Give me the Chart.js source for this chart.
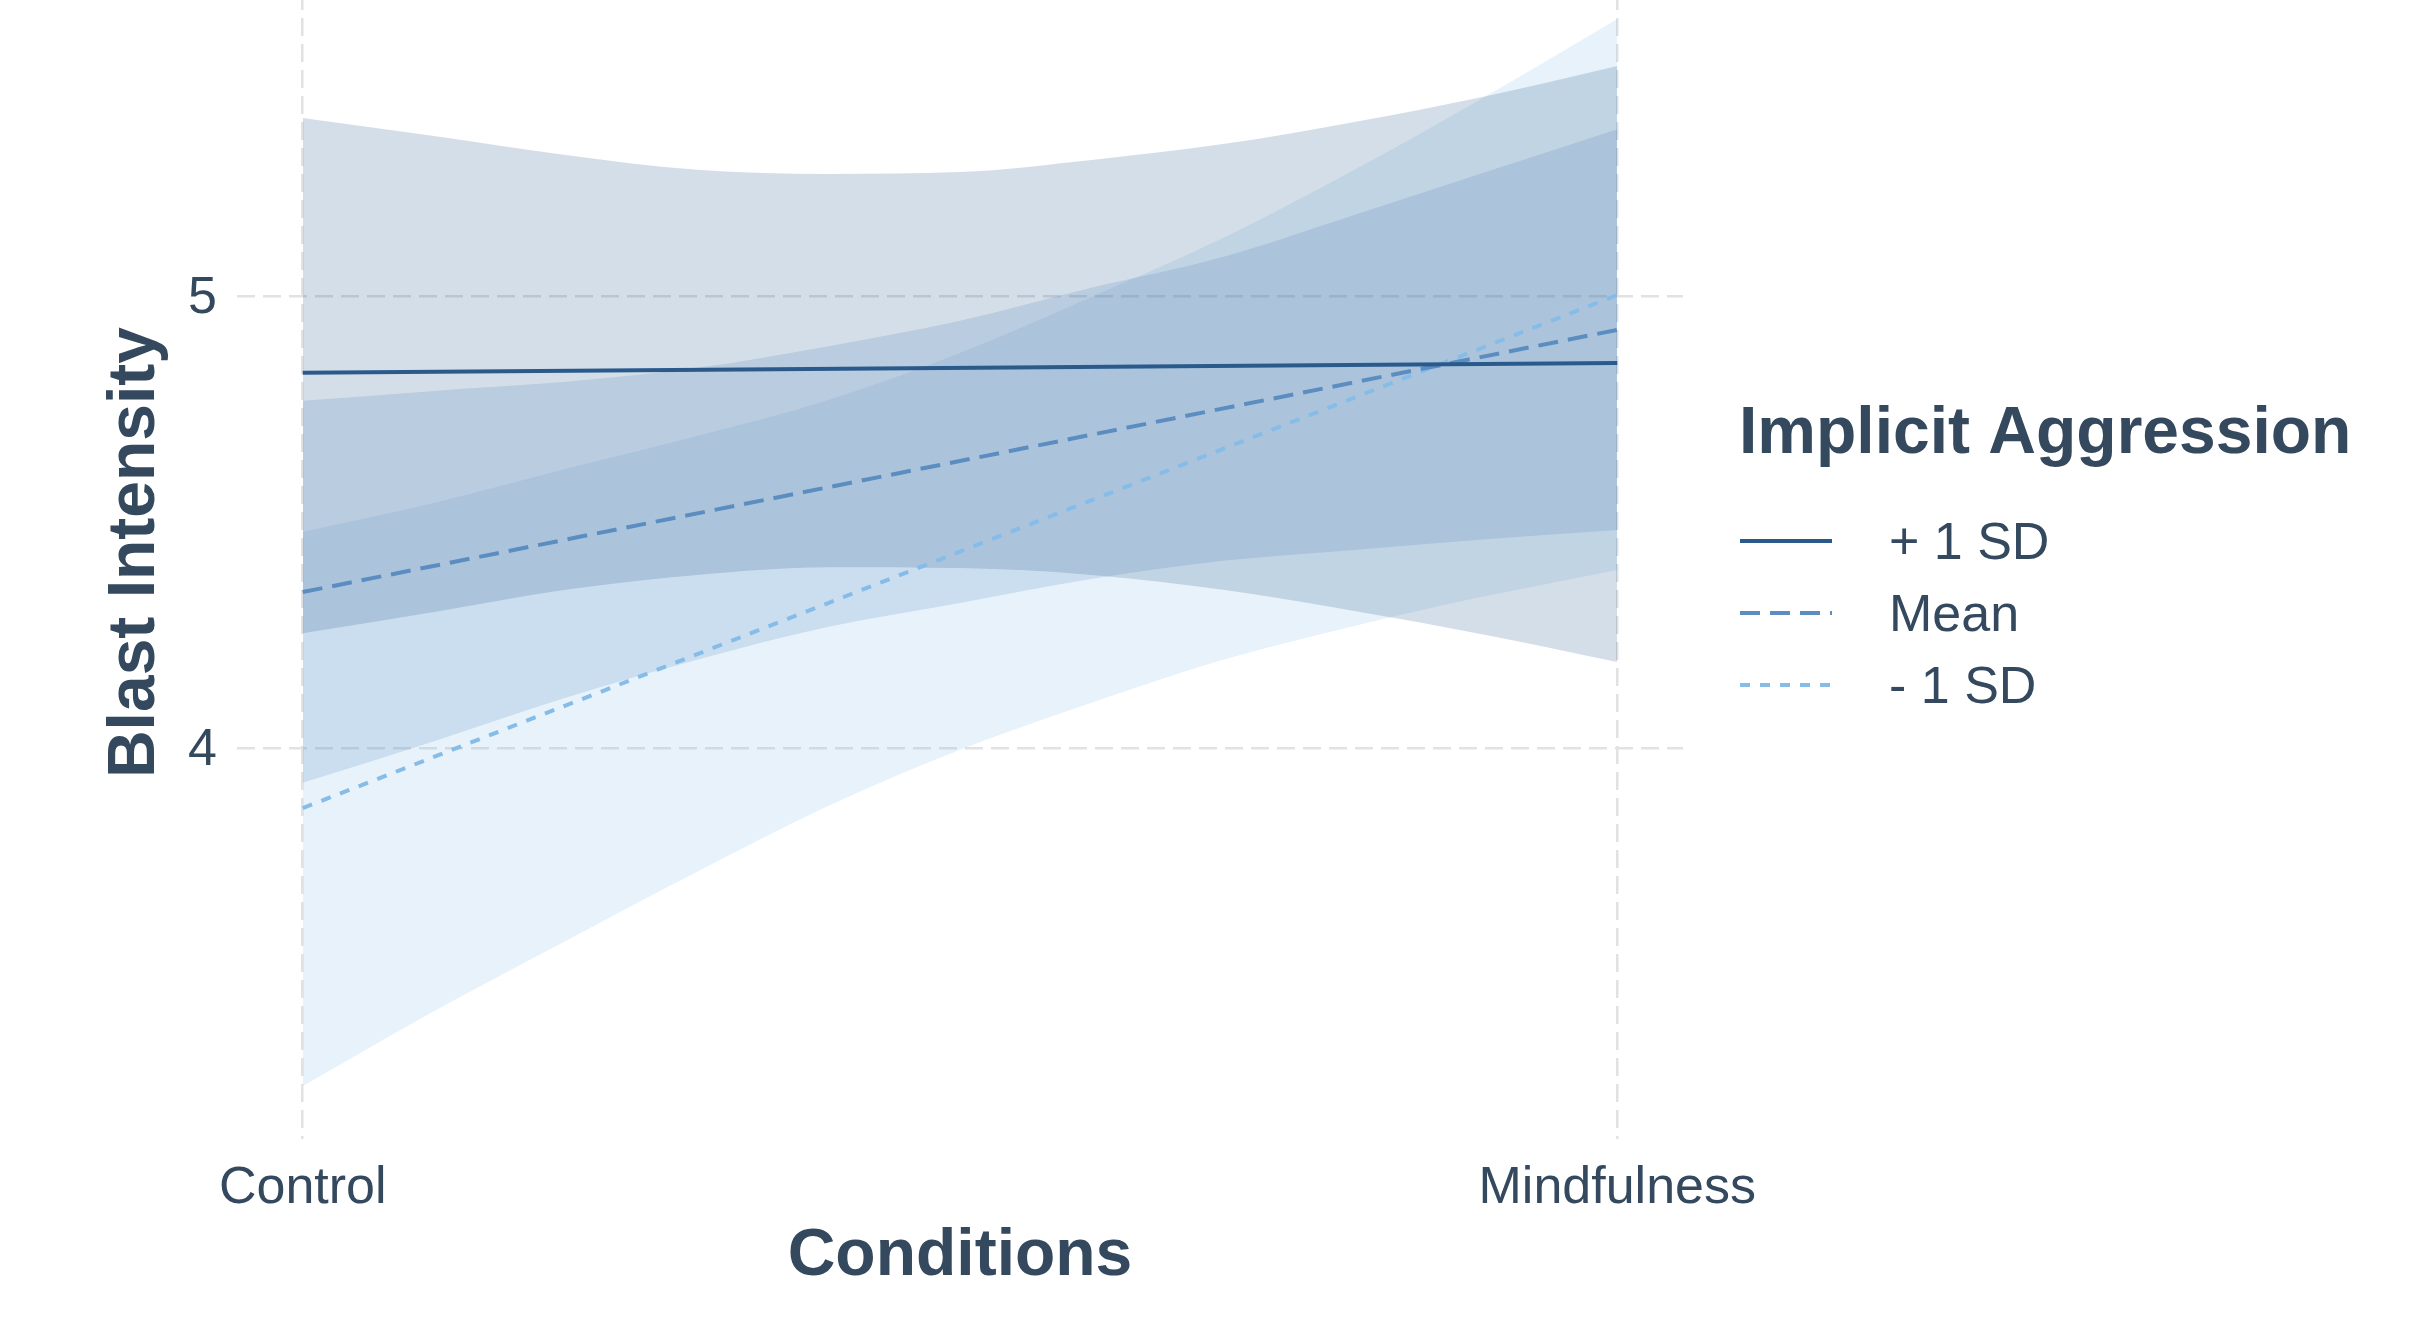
<!DOCTYPE html>
<html>
<head>
<meta charset="utf-8">
<title>Blast Intensity by Condition</title>
<script src="https://cdn.jsdelivr.net/npm/chart.js@4.4.1/dist/chart.umd.min.js"></script>
<style>
    html, body { margin: 0; padding: 0; background: #ffffff; overflow: hidden; }
    #wrap { position: relative; width: 2432px; height: 1321px; overflow: hidden; }
    /* o painel do original continua acima do recorte */
    #chart { position: absolute; left: 0; top: -34px; }
</style>
</head>
<body>
<div id="wrap"><canvas id="chart" width="2432" height="1355"></canvas></div>
<script>
// Categorias do eixo x (codificadas 0 / 1)
const conditions = ['Control', 'Mindfulness'];
const conditionX = [0, 1];
const yTicks = [4, 5];
const legendTitle = 'Implicit Aggression';
const seriesLabels = ['+ 1 SD', 'Mean', '- 1 SD'];

// Rectas previstas (Control, Mindfulness)
const plusSD = [4.83, 4.852];
const meanSD = [4.345, 4.925];
const minusSD = [3.867, 5.002];

// Intervalos de confiança lidos ao longo do eixo
const bandX = [0, 0.1, 0.2, 0.3, 0.4, 0.5, 0.6, 0.7, 0.8, 0.9, 1];
const plusUpper = [5.394, 5.354, 5.312, 5.279, 5.270, 5.274, 5.301, 5.336, 5.385, 5.442, 5.509];
const plusLower = [4.254, 4.301, 4.350, 4.383, 4.400, 4.398, 4.383, 4.350, 4.303, 4.250, 4.190];
const meanUpper = [4.768, 4.790, 4.810, 4.841, 4.889, 4.945, 5.018, 5.086, 5.179, 5.274, 5.369];
const meanLower = [3.923, 4.015, 4.111, 4.195, 4.268, 4.321, 4.374, 4.414, 4.438, 4.462, 4.482];
const minusUpper = [4.478, 4.542, 4.617, 4.690, 4.770, 4.874, 4.998, 5.128, 5.279, 5.442, 5.613];
const minusLower = [3.252, 3.418, 3.573, 3.726, 3.872, 3.996, 4.100, 4.195, 4.270, 4.336, 4.394];

const textColor = '#34495E';
const fontFamily = '"Liberation Sans", Arial, Helvetica, sans-serif';
const colors = ['#2A5A8C', '#5B8DC1', '#86BCE8'];
const dashes = [[], [20, 10], [10, 10]];

function hexToRgba(hex, a) {
    const n = parseInt(hex.slice(1), 16);
    return `rgba(${(n >> 16) & 255}, ${(n >> 8) & 255}, ${n & 255}, ${a})`;
}

function toPoints(xs, ys) {
    return xs.map((x, i) => ({ x: x, y: ys[i] }));
}

// --- BANDAS (desenhadas por baixo das linhas) ---
const bands = [[plusUpper, plusLower], [meanUpper, meanLower], [minusUpper, minusLower]];
const datasets = [];
bands.forEach(function(b, i) {
    datasets.push({
        label: seriesLabels[i] + ' upper',
        data: toPoints(bandX, b[0]),
        fill: '+1',
        backgroundColor: hexToRgba(colors[i], 0.2),
        borderColor: 'rgba(0,0,0,0)',
        borderWidth: 0,
        pointRadius: 0,
        cubicInterpolationMode: 'monotone',
        order: 1
    });
    datasets.push({
        label: seriesLabels[i] + ' lower',
        data: toPoints(bandX, b[1]),
        fill: false,
        borderColor: 'rgba(0,0,0,0)',
        borderWidth: 0,
        pointRadius: 0,
        cubicInterpolationMode: 'monotone',
        order: 1
    });
});

// --- LINHAS ---
[plusSD, meanSD, minusSD].forEach(function(vals, i) {
    datasets.push({
        label: seriesLabels[i],
        data: toPoints(conditionX, vals),
        fill: false,
        borderColor: colors[i],
        borderWidth: 4,
        borderDash: dashes[i],
        borderCapStyle: 'butt',
        pointRadius: 0,
        order: 0
    });
});

// Legenda desenhada à direita, ao estilo ggplot
const ggLegend = {
    id: 'ggLegend',
    afterDraw(chart) {
        const ctx = chart.ctx;
        ctx.save();
        ctx.fillStyle = textColor;
        ctx.textBaseline = 'middle';
        ctx.textAlign = 'left';
        ctx.font = `bold 66px ${fontFamily}`;
        ctx.fillText(legendTitle, 1739, 469);
        seriesLabels.forEach(function(label, i) {
            const y = 575 + i * 72;
            ctx.beginPath();
            ctx.lineWidth = 4;
            ctx.lineCap = 'butt';
            ctx.strokeStyle = colors[i];
            ctx.setLineDash(dashes[i]);
            ctx.moveTo(1740, y);
            ctx.lineTo(1832, y);
            ctx.stroke();
            ctx.setLineDash([]);
            ctx.font = `52px ${fontFamily}`;
            ctx.fillText(label, 1889, y + 4);
        });
        ctx.restore();
    }
};

Chart.defaults.font.family = fontFamily;
Chart.defaults.color = textColor;

const ctx = document.getElementById('chart').getContext('2d');
new Chart(ctx, {
    type: 'line',
    data: { datasets: datasets },
    options: {
        responsive: false,
        animation: false,
        devicePixelRatio: 1,
        layout: { padding: { left: 0, right: 749, top: 0, bottom: 0 } },
        plugins: {
            legend: { display: false },
            tooltip: { enabled: false }
        },
        scales: {
            x: {
                type: 'linear',
                min: -0.05,
                max: 1.05,
                afterBuildTicks: function(scale) {
                    scale.ticks = conditionX.map(v => ({ value: v }));
                },
                afterFit: function(scale) {
                    scale.height = 182;
                    scale.paddingLeft = 0;
                    scale.paddingRight = 0;
                },
                ticks: {
                    color: textColor,
                    font: { size: 52 },
                    padding: 18,
                    maxRotation: 0,
                    autoSkip: false,
                    callback: function(value) { return conditions[conditionX.indexOf(value)]; }
                },
                grid: { color: '#E2E2E2', lineWidth: 2.5, drawTicks: false },
                border: { display: false, dash: [18, 8] },
                title: {
                    display: true,
                    text: 'Conditions',
                    color: textColor,
                    font: { size: 66, weight: 'bold', lineHeight: 1.2 },
                    padding: { top: 0, bottom: 25 }
                }
            },
            y: {
                type: 'linear',
                min: 3.135,
                max: 5.73,
                afterBuildTicks: function(scale) {
                    scale.ticks = yTicks.map(v => ({ value: v }));
                },
                afterFit: function(scale) {
                    scale.width = 237;
                    scale.paddingTop = 0;
                    scale.paddingBottom = 0;
                },
                ticks: {
                    color: textColor,
                    font: { size: 52 },
                    padding: 20,
                    labelOffset: 3
                },
                grid: { color: '#E2E2E2', lineWidth: 2.5, drawTicks: false },
                border: { display: false, dash: [18, 8] },
                title: {
                    display: true,
                    text: 'Blast Intensity',
                    color: textColor,
                    font: { size: 66, weight: 'bold', lineHeight: 1.2 },
                    padding: { top: 96, bottom: 0 }
                }
            }
        }
    },
    plugins: [ggLegend]
});
</script>
</body>
</html>
